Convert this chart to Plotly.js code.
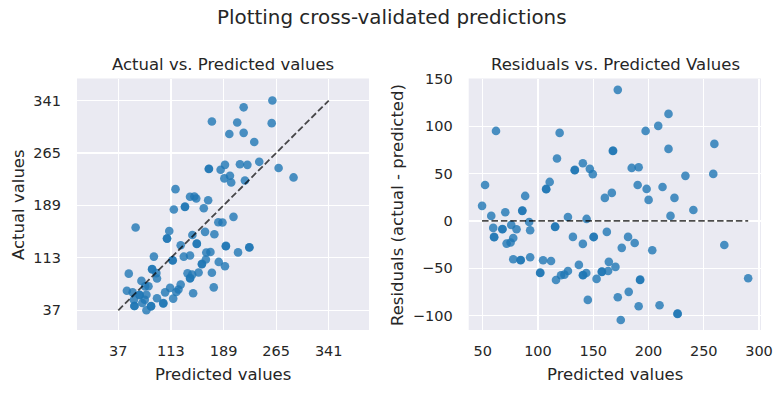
<!DOCTYPE html>
<html>
<head>
<meta charset="utf-8">
<script src="https://cdn.plot.ly/plotly-3.0.1.min.js"></script>
<style>html,body{margin:0;padding:0;background:#fff;}#chart{width:783px;height:393px;}</style>
</head>
<body>
<div id="chart"></div>
<script>
// Cross-validated predictions
const predicted = [172.2,218.1,208.8,62.0,119.6,197.4,259.6,218.1,167.7,168.0,117.2,140.6,133.2,133.4,146.9,149.6,184.8,191.1,233.4,258.6,52.1,110.6,107.3,107.5,88.4,190.2,198.3,212.7,200.1,223.5,160.5,166.8,49.4,85.7,85.9,70.4,57.7,240.6,219.9,127.1,144.0,92.0,59.5,67.7,67.9,75.8,80.6,92.9,60.2,60.4,77.6,71.6,75.2,115.4,115.6,131.6,140.6,150.5,150.3,162.3,181.5,187.5,175.8,203.4,268.6,77.6,84.2,84.4,92.9,104.6,111.8,101.9,102.1,116.3,120.8,123.9,127.1,137.0,140.6,140.8,143.7,153.0,157.7,157.9,163.5,164.1,170.1,145.1,172.2,182.1,192.3,192.5,191.1,210.0,226.2,226.4,174.9,290.2];
const actual = [310.7,331.2,309.2,157.1,212.6,292.5,341.0,294.2,241.7,242.2,183.1,201.6,186.8,187.3,201.9,199.0,240.8,247.8,281.0,308.3,90.1,151.8,141.1,140.9,114.8,228.2,232.1,248.6,222.3,247.8,184.8,196.4,65.3,96.3,96.8,79.6,63.0,252.2,225.2,131.3,146.1,90.9,52.1,58.9,59.4,71.6,71.8,83.1,43.3,43.2,59.6,47.6,52.3,109.1,109.5,114.7,116.3,133.6,133.2,150.7,164.6,164.2,147.3,172.4,243.2,37.0,42.6,43.1,54.5,63.0,69.5,46.9,47.4,53.9,63.4,67.1,74.2,90.5,83.2,83.7,88.7,91.7,103.8,104.3,110.6,120.8,121.5,61.6,91.5,107.1,129.9,130.4,100.9,120.9,127.9,128.4,70.2,229.6];
const residuals = [138.5,113.1,100.4,95.1,93.0,95.1,81.4,76.1,74.0,74.2,65.9,61.0,53.6,53.9,55.0,49.4,56.0,56.7,47.6,49.7,38.0,41.2,33.8,33.4,26.4,38.0,33.8,35.9,22.2,24.3,24.3,29.6,15.9,10.6,10.9,9.2,5.3,11.6,5.3,4.2,2.1,-1.1,-7.4,-8.8,-8.5,-4.2,-8.8,-9.8,-16.9,-17.2,-18.0,-24.0,-22.9,-6.3,-6.1,-16.9,-24.3,-16.9,-17.1,-11.6,-16.9,-23.3,-28.5,-31.0,-25.4,-40.6,-41.6,-41.3,-38.4,-41.6,-42.3,-55.0,-54.7,-62.4,-57.4,-56.8,-52.9,-46.5,-57.4,-57.1,-55.0,-61.3,-53.9,-53.6,-52.9,-43.3,-48.6,-83.5,-80.7,-75.0,-62.4,-62.1,-90.2,-89.1,-98.3,-98.0,-104.7,-60.6];

const leftTicks = [37, 113, 189, 265, 341];
const rightXTicks = [50, 100, 150, 200, 250, 300];
const rightYTicks = [-100, -50, 0, 50, 100, 150];
const perfectLine = [37, 341];          // identity line endpoints (min, max of values)
const zeroLineX = [49.4, 290.2];        // range of predictions
const zeroLineY = [0, 0];

const textColor = '#262626';
const bg = '#EAEAF2';
const ptColor = '#1f77b4';
const font = 'DejaVu Sans, sans-serif';
const tickFont = {family: font, size: 14.5, color: textColor};
const labelSize = 16.5;

const traces = [
  {x: predicted, y: actual, type: 'scatter', mode: 'markers', xaxis: 'x', yaxis: 'y',
   marker: {color: ptColor, size: 8.6, opacity: 0.8, line: {width: 0}}, hoverinfo: 'skip'},
  {x: perfectLine, y: perfectLine, type: 'scatter', mode: 'lines', xaxis: 'x', yaxis: 'y',
   line: {color: 'rgba(0,0,0,0.7)', width: 1.8, dash: '6.5px,2.9px'}, hoverinfo: 'skip'},
  {x: predicted, y: residuals, type: 'scatter', mode: 'markers', xaxis: 'x2', yaxis: 'y2',
   marker: {color: ptColor, size: 8.6, opacity: 0.8, line: {width: 0}}, hoverinfo: 'skip'},
  {x: zeroLineX, y: zeroLineY, type: 'scatter', mode: 'lines', xaxis: 'x2', yaxis: 'y2',
   line: {color: 'rgba(0,0,0,0.7)', width: 1.8, dash: '6.5px,2.9px'}, hoverinfo: 'skip'}
];

const W = 783, H = 393;
const px = v => v / W;
const py = v => 1 - v / H;

const axCommon = {
  showgrid: true, gridcolor: '#ffffff', gridwidth: 1.2,
  zeroline: false, showline: false, ticks: '', tickfont: tickFont, fixedrange: true
};
const xCommon = Object.assign({}, axCommon, {ticklabelstandoff: 10});
const yCommon = Object.assign({}, axCommon, {ticklabelstandoff: 15});

const annFont = s => ({family: font, size: s, color: textColor});

const layout = {
  width: W, height: H,
  margin: {l: 0, r: 0, t: 0, b: 0},
  paper_bgcolor: '#ffffff', plot_bgcolor: bg,
  showlegend: false,
  font: {family: font, color: textColor},
  xaxis: Object.assign({}, xCommon, {domain: [px(77), px(369)], range: [-22.7, 399.2],
    tickmode: 'array', tickvals: leftTicks, ticktext: leftTicks.map(String), anchor: 'y'}),
  yaxis: Object.assign({}, yCommon, {domain: [py(330), py(78.5)], range: [8.4, 373],
    tickmode: 'array', tickvals: leftTicks, ticktext: leftTicks.map(String), anchor: 'x'}),
  xaxis2: Object.assign({}, xCommon, {domain: [px(468.7), px(761)], range: [37.3, 301.8],
    tickmode: 'array', tickvals: rightXTicks, anchor: 'y2'}),
  yaxis2: Object.assign({}, yCommon, {domain: [py(330), py(78.5)], range: [-115.3, 150.5],
    tickmode: 'array', tickvals: rightYTicks, ticktext: rightYTicks.map(v => v < 0 ? '\u2212' + Math.abs(v) : String(v)), anchor: 'x2'}),
  annotations: [
    {text: 'Plotting cross-validated predictions', x: 0.5, y: py(18), xref: 'paper', yref: 'paper',
     xanchor: 'center', yanchor: 'middle', showarrow: false, font: annFont(19.9)},
    {text: 'Actual vs. Predicted values', x: px(223), y: py(65), xref: 'paper', yref: 'paper',
     xanchor: 'center', yanchor: 'middle', showarrow: false, font: annFont(labelSize)},
    {text: 'Residuals vs. Predicted Values', x: px(615), y: py(65), xref: 'paper', yref: 'paper',
     xanchor: 'center', yanchor: 'middle', showarrow: false, font: annFont(labelSize)},
    {text: 'Predicted values', x: px(223), y: py(374), xref: 'paper', yref: 'paper',
     xanchor: 'center', yanchor: 'middle', showarrow: false, font: annFont(labelSize)},
    {text: 'Predicted values', x: px(615), y: py(374), xref: 'paper', yref: 'paper',
     xanchor: 'center', yanchor: 'middle', showarrow: false, font: annFont(labelSize)},
    {text: 'Actual values', x: px(18.5), y: py(204.5), xref: 'paper', yref: 'paper', textangle: -90,
     xanchor: 'center', yanchor: 'middle', showarrow: false, font: annFont(labelSize)},
    {text: 'Residuals (actual - predicted)', x: px(397.5), y: py(204.5), xref: 'paper', yref: 'paper', textangle: -90,
     xanchor: 'center', yanchor: 'middle', showarrow: false, font: annFont(labelSize)}
  ]
};

Plotly.newPlot('chart', traces, layout, {displayModeBar: false, staticPlot: true});
</script>
</body>
</html>
